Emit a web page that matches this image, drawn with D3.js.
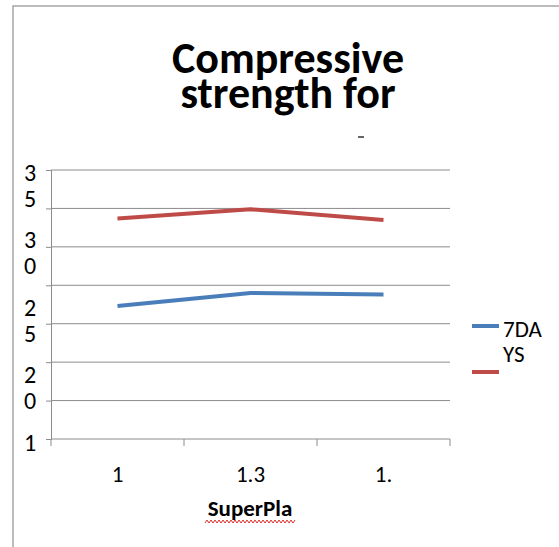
<!DOCTYPE html>
<html>
<head>
<meta charset="utf-8">
<script src="https://cdn.jsdelivr.net/npm/d3@7"></script>
<style>
  html, body { margin: 0; padding: 0; background: #ffffff; }
  svg { display: block; }
  text { font-family: Carlito, Calibri, Lato, "Open Sans", sans-serif; fill: #000; }
</style>
</head>
<body>
<svg id="chart" width="559" height="547"></svg>
<script>
// Dosage categories on the x axis (as displayed)
const categories = ["1", "1.3", "1."];
// Series names and values (MPa)
const seriesNames = ["7DAYS", "28DAYS"];
const sevenDays = [17.3, 19.0, 18.8];
const twentyEightDays = [28.7, 29.9, 28.5];
// Value axis tick labels
const yTickValues = [35, 30, 25, 20, 15, 10, 5, 0];
const titleLines = ["Compressive", "strength for"];
const xAxisTitle = "SuperPla";

const colors = ["#4a7ebb", "#be4b48"];
const series = [sevenDays, twentyEightDays];

const svg = d3.select("#chart");
const W = 559, H = 547;
const plot = { left: 51, right: 450, top: 170, bottom: 439 };

// Chart area frame (left and top edges)
svg.append("path")
  .attr("d", `M13,${H} L13,6 L${W},6`)
  .attr("fill", "none")
  .attr("stroke", "#a6a6a6")
  .attr("stroke-width", 1.5);

// Title, one text per line
titleLines.forEach((t, i) => {
  svg.append("text")
    .attr("x", 288).attr("y", 73 + i * 35)
    .attr("text-anchor", "middle")
    .attr("font-weight", "bold")
    .attr("font-size", 44)
    .text(t);
});
// clipped remnant of the next title line
svg.append("line")
  .attr("x1", 358).attr("x2", 364).attr("y1", 137).attr("y2", 137)
  .attr("stroke", "#333").attr("stroke-width", 1.5);

// Scales
const x = d3.scaleBand().domain(categories).range([plot.left, plot.right]);
const y = d3.scaleLinear().domain([0, 35]).range([plot.bottom, plot.top]);

// Gridlines
svg.append("g")
  .selectAll("line")
  .data(yTickValues.filter(v => v > 0))
  .join("line")
  .attr("x1", plot.left).attr("x2", plot.right)
  .attr("y1", d => y(d)).attr("y2", d => y(d))
  .attr("stroke", "#8c8c8c").attr("stroke-width", 1);

// Value axis: line and ticks
const yAxis = svg.append("g")
  .attr("transform", `translate(${plot.left},0)`)
  .call(d3.axisLeft(y).tickValues(yTickValues).tickSize(5).tickFormat(""));
yAxis.selectAll("path, line").attr("stroke", "#8c8c8c");

// Category axis: line and boundary ticks
const boundaries = categories.map(c => x(c)).concat([plot.right]);
const xg = svg.append("g");
xg.append("line")
  .attr("x1", plot.left).attr("x2", plot.right)
  .attr("y1", plot.bottom).attr("y2", plot.bottom)
  .attr("stroke", "#8c8c8c");
xg.selectAll("line.tick")
  .data(boundaries)
  .join("line")
  .attr("class", "tick")
  .attr("x1", d => d).attr("x2", d => d)
  .attr("y1", plot.bottom).attr("y2", plot.bottom + 7)
  .attr("stroke", "#8c8c8c");

// Value axis labels: narrow column, each label wrapped one character per line;
// lines that fall past the axis area are not drawn
const yLabelLimit = 452;
const yLabelPos = d3.scaleLinear().domain([0, 1]).range([184.5, 252]);
const yl = svg.append("g");
yTickValues.forEach((v, i) => {
  const chars = String(v).split("");
  const lines = chars.map((ch, j) => ({
    ch, y: yLabelPos(i) + (j - (chars.length - 1) / 2) * 26
  })).filter(d => d.y < yLabelLimit);
  if (!lines.length) return;
  const t = yl.append("text")
    .attr("text-anchor", "middle")
    .attr("font-size", 24)
    .attr("dominant-baseline", "central");
  lines.forEach(d => {
    t.append("tspan").attr("x", 30).attr("y", d.y).text(d.ch);
  });
});

// Category labels
svg.append("g")
  .selectAll("text")
  .data(categories)
  .join("text")
  .attr("x", d => x(d) + x.bandwidth() / 2)
  .attr("y", 482)
  .attr("text-anchor", "middle")
  .attr("font-size", 23)
  .text(d => d);

// Axis title with spell-check underline
svg.append("text")
  .attr("x", 250).attr("y", 516)
  .attr("text-anchor", "middle")
  .attr("font-weight", "bold")
  .attr("font-size", 23)
  .text(xAxisTitle);
const wave = d3.range(205, 297, 2).map((px, i) => [px, i % 2 ? 520 : 523]);
svg.append("path")
  .attr("d", d3.line()(wave))
  .attr("fill", "none")
  .attr("stroke", "#e03030")
  .attr("stroke-width", 1);

// Series lines
const line = d3.line()
  .x((d, i) => x(categories[i]) + x.bandwidth() / 2)
  .y(d => y(d));
series.forEach((vals, k) => {
  svg.append("path")
    .datum(vals)
    .attr("d", line)
    .attr("fill", "none")
    .attr("stroke", colors[k])
    .attr("stroke-width", 4)
    .attr("stroke-linejoin", "round");
});

// Legend: names wrap in a narrow box; lines past the box are not drawn
const legendLimit = 366;
const entryY = [326, 372];
seriesNames.forEach((name, k) => {
  svg.append("line")
    .attr("x1", 472).attr("x2", 499)
    .attr("y1", entryY[k]).attr("y2", entryY[k])
    .attr("stroke", colors[k]).attr("stroke-width", 4);
  const parts = [name.slice(0, 3), name.slice(3)]
    .map((p, j) => ({ p, y: entryY[k] + 11 + j * 25 }))
    .filter(d => d.y < legendLimit);
  if (!parts.length) return;
  const t = svg.append("text").attr("font-size", 23);
  parts.forEach(d => {
    t.append("tspan").attr("x", 503).attr("y", d.y).text(d.p);
  });
});
</script>
</body>
</html>
